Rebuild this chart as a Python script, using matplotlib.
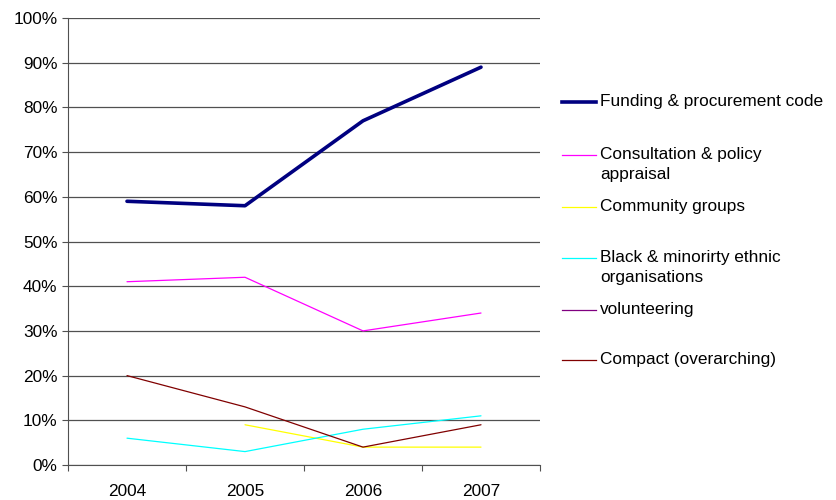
import numpy as np
import matplotlib.pyplot as plt
from matplotlib.lines import Line2D

plt.rcParams['font.family'] = ['Liberation Sans', 'DejaVu Sans']

years = ['2004', '2005', '2006', '2007']
funding = [59, 58, 77, 89]
consultation = [41, 42, 30, 34]
community = [np.nan, 9, 4, 4]
bme = [6, 3, 8, 11]
volunteering = [np.nan, np.nan, np.nan, np.nan]
compact = [20, 13, 4, 9]

series = [
    ('Funding & procurement code', funding, '#000080', 2.6),
    ('Consultation & policy\nappraisal', consultation, '#FF00FF', 0.9),
    ('Community groups', community, '#FFFF00', 0.9),
    ('Black & minorirty ethnic\norganisations', bme, '#00FFFF', 0.9),
    ('volunteering', volunteering, '#800080', 0.9),
    ('Compact (overarching)', compact, '#800000', 0.9),
]

fs = 12.4

fig = plt.figure(figsize=(8.37, 5.0), dpi=100)
ax = fig.add_axes([68 / 837, 35 / 500, 472 / 837, 447 / 500])

x = np.arange(len(years))
for name, vals, col, lw in series:
    ax.plot(x, vals, color=col, lw=lw, solid_capstyle='round', zorder=3)

ax.set_xlim(-0.5, len(years) - 0.5)
ax.set_ylim(0, 100)
ax.set_yticks(np.arange(0, 101, 10))
ax.set_yticklabels([f'{v}%' for v in range(0, 101, 10)], fontsize=fs)
ax.yaxis.grid(True, color='#505050', lw=0.9)
ax.set_axisbelow(True)

ax.set_xticks(np.arange(-0.5, len(years)), labels=[''] * (len(years) + 1))
ax.set_xticks(x, labels=years, minor=True, fontsize=fs)
ax.tick_params(axis='x', which='minor', length=0, pad=14)
ax.tick_params(axis='both', which='major', length=4, color='#505050', direction='out')

for s in ['top', 'right']:
    ax.spines[s].set_visible(False)
for s in ['left', 'bottom']:
    ax.spines[s].set_color('#505050')

# legend drawn by hand at the right side
legend_y = [102, 155, 207, 258, 310, 360]
for (name, vals, col, lw), yp in zip(series, legend_y):
    fy = 1 - yp / 500
    fig.add_artist(Line2D([562 / 837, 596 / 837], [fy, fy], color=col, lw=lw,
                          transform=fig.transFigure))
    fig.text(600 / 837, fy + 8 / 500, name, fontsize=fs, va='top', ha='left',
             linespacing=1.45)

fig.savefig('out.png', dpi=100)
